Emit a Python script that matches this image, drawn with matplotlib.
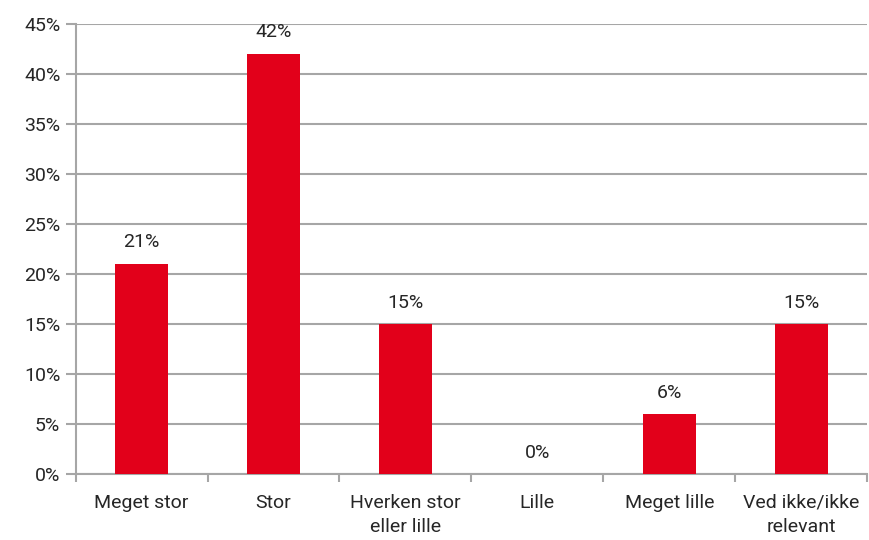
import numpy as np
import matplotlib.pyplot as plt

kategorier = ["Meget stor", "Stor", "Hverken stor\neller lille", "Lille", "Meget lille", "Ved ikke/ikke\nrelevant"]
andel = [21, 42, 15, 0, 6, 15]

plt.rcParams['font.family'] = ['Roboto', 'DejaVu Sans']
graa = "#a6a6a6"
tekst = "#262626"

fig = plt.figure(figsize=(8.69, 5.40), dpi=100)
ax = fig.add_axes([0.087, 0.122, 0.911, 0.834])

x = np.arange(len(kategorier))
ax.bar(x, andel, width=0.4, color="#e2001a", zorder=3)

for xi, v in zip(x, andel):
    ax.annotate(f"{v}%", (xi, v), xytext=(0, 9), textcoords="offset points",
                ha="center", va="bottom", fontsize=14, color=tekst)

ax.set_xlim(-0.5, len(kategorier) - 0.5)
ax.set_ylim(0, 45)
ax.set_yticks(np.arange(0, 46, 5))
ax.set_yticklabels([f"{t}%" for t in range(0, 46, 5)])
ax.yaxis.grid(True, color=graa, linewidth=1.5, zorder=0)

# tick marks between the categories, labels centred under the bars
ax.set_xticks(np.arange(-0.5, len(kategorier), 1))
ax.set_xticklabels([])
ax.set_xticks(x, minor=True)
ax.set_xticklabels(kategorier, minor=True, fontsize=14, color=tekst, linespacing=1.45)
ax.tick_params(axis="x", which="major", length=6, width=1.5, color=graa, direction="out")
ax.tick_params(axis="x", which="minor", length=0, pad=14)
ax.tick_params(axis="y", length=7, width=1.5, color=graa, labelsize=14, labelcolor=tekst, pad=4)

for s in ["top", "right"]:
    ax.spines[s].set_visible(False)
for s in ["left", "bottom"]:
    ax.spines[s].set_color(graa)
    ax.spines[s].set_linewidth(1.5)

fig.savefig("out.png", dpi=100)
